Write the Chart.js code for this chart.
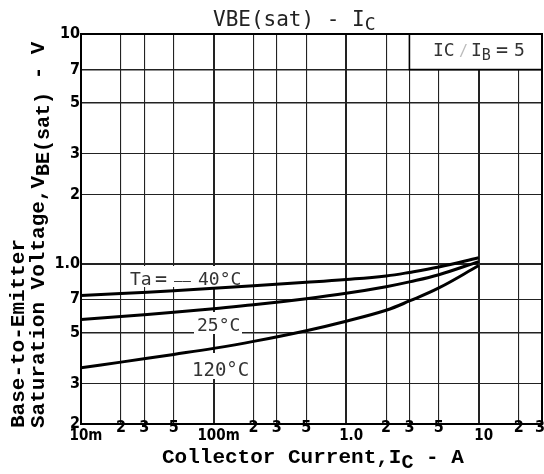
<!DOCTYPE html>
<html>
<head>
<meta charset="utf-8">
<script src="https://cdn.jsdelivr.net/npm/chart.js@4.4.1/dist/chart.umd.min.js"></script>
<style>
  html, body { margin: 0; padding: 0; background: #fff; }
  #wrap { width: 544px; height: 474px; }
</style>
</head>
<body>
<div id="wrap"><canvas id="myChart" width="544" height="474"></canvas></div>
<script>
// collector current (A) and VBE(sat) (V)
const currentA = [0.01, 0.02, 0.05, 0.1, 0.2, 0.5, 1, 2, 3, 5, 10];
const vbeM40 = [0.725, 0.740, 0.762, 0.781, 0.800, 0.828, 0.852, 0.883, 0.915, 0.966, 1.060];
const vbe25 = [0.570, 0.588, 0.613, 0.636, 0.661, 0.703, 0.742, 0.793, 0.832, 0.894, 1.020];
const vbe120 = [0.352, 0.372, 0.402, 0.427, 0.458, 0.510, 0.561, 0.626, 0.687, 0.783, 0.980];

const xTicks = [0.01, 0.02, 0.03, 0.05, 0.1, 0.2, 0.3, 0.5, 1, 2, 3, 5, 10, 20, 30];
const xTickLabels = ["10m", "2", "3", "5", "100m", "2", "3", "5", "1.0", "2", "3", "5", "10", "2", "3"];
const yTicks = [0.2, 0.3, 0.5, 0.7, 1, 2, 3, 5, 7, 10];
const yTickLabels = ["2", "3", "5", "7", "1.0", "2", "3", "5", "7", "10"];

const monoBold = "'Liberation Mono', 'DejaVu Sans Mono', monospace";
const monoThin = "'DejaVu Sans Mono', 'Liberation Mono', monospace";
const narrow = "'Liberation Sans Narrow', 'DejaVu Sans Condensed', 'Liberation Sans', sans-serif";

function toPoints(ys) {
  return currentA.map((x, i) => ({ x: x, y: ys[i] }));
}

function line(label, ys) {
  return {
    label: label,
    data: toPoints(ys),
    showLine: true,
    borderColor: "#000",
    borderWidth: 3,
    pointRadius: 0,
    tension: 0.4,
    fill: false
  };
}

// draws text pieces one after another, subscripts shifted down
function drawParts(c, parts, x, y) {
  parts.forEach(p => {
    c.font = p.font;
    c.fillStyle = p.color || "#000";
    let px = p.x !== undefined ? p.x : x;
    c.fillText(p.t, px, y + (p.dy || 0));
    x = px + c.measureText(p.t).width;
  });
}

const decorations = {
  id: "decorations",
  beforeDatasetsDraw(chart) {
    let c = chart.ctx;
    let xs = chart.scales.x;
    let ys = chart.scales.y;
    c.save();

    // IC/IB box in the top right cell
    let bx0 = xs.getPixelForValue(3), bx1 = xs.getPixelForValue(30);
    let by0 = ys.getPixelForValue(10), by1 = ys.getPixelForValue(7);
    c.fillStyle = "#fff";
    c.fillRect(bx0, by0, bx1 - bx0, by1 - by0);
    c.strokeStyle = "#000";
    c.lineWidth = 1.6;
    c.strokeRect(bx0, by0, bx1 - bx0, by1 - by0);
    c.textAlign = "left";
    c.textBaseline = "alphabetic";
    drawParts(c, [
      { t: "IC", font: "18px " + monoThin, x: 433, color: "#333" },
      { t: "/", font: "15px " + monoThin, x: 459, color: "#bbb" },
      { t: "I", font: "18px " + monoThin, x: 471, color: "#333" },
      { t: "B", font: "15px " + monoThin, dy: 4, color: "#333" },
      { t: "=", font: "20px " + monoThin, x: 496, color: "#333" },
      { t: "5", font: "18px " + monoThin, x: 514, color: "#333" }
    ], 433, 56);

    // curve labels on white patches
    c.fillStyle = "#fff";
    c.fillRect(127, 266, 118, 21);
    c.fillRect(194, 312, 48, 22);
    c.fillRect(190, 353, 57, 26);
    drawParts(c, [
      { t: "Ta", font: "18px " + monoThin, x: 130, color: "#333" },
      { t: "=", font: "20px " + monoThin, x: 155, color: "#333" },
      { t: "\u2014\u2014", font: "14px " + monoThin, x: 174, color: "#333" },
      { t: "40\u00b0C", font: "18px " + monoThin, x: 198, color: "#333" }
    ], 130, 285);
    drawParts(c, [{ t: "25\u00b0C", font: "18px " + monoThin, color: "#333" }], 197, 331);
    drawParts(c, [{ t: "120\u00b0C", font: "19px " + monoThin, color: "#333" }], 192, 376);
    c.restore();
  },
  afterDraw(chart) {
    let c = chart.ctx;
    let xs = chart.scales.x;
    let area = chart.chartArea;
    c.save();

    // plot frame
    c.strokeStyle = "#000";
    c.lineWidth = 2;
    c.strokeRect(area.left, area.top, area.right - area.left, area.bottom - area.top);

    // x tick labels, minor ones sit a bit higher
    c.textBaseline = "middle";
    c.fillStyle = "#000";
    xTicks.forEach((v, i) => {
      let px = xs.getPixelForValue(v);
      let major = xTickLabels[i].length > 1;
      c.font = (major ? "bold 15px " : "bold 16px ") + narrow;
      c.textAlign = "center";
      if (i === xTicks.length - 1) { c.textAlign = "right"; px += 3; }
      c.fillText(xTickLabels[i], major ? px + 5 : px, major ? area.bottom + 12 : area.bottom + 4);
    });

    // title
    c.textAlign = "left";
    c.textBaseline = "alphabetic";
    drawParts(c, [
      { t: "VBE(sat) - I", font: "21px " + monoThin, color: "#222" },
      { t: "C", font: "18px " + monoThin, dy: 4, color: "#222" }
    ], 213, 26);

    // x axis title
    drawParts(c, [
      { t: "Collector Current,I", font: "bold 21px " + monoBold },
      { t: "C", font: "bold 20px " + monoBold, dy: 5 },
      { t: " - A", font: "bold 21px " + monoBold }
    ], 162, 463);

    // y axis title, two rotated lines
    c.save();
    c.translate(24, 428);
    c.rotate(-Math.PI / 2);
    drawParts(c, [{ t: "Base-to-Emitter", font: "bold 21px " + monoBold }], 0, 0);
    c.restore();
    c.save();
    c.translate(44, 428);
    c.rotate(-Math.PI / 2);
    drawParts(c, [
      { t: "Saturation Voltage,V", font: "bold 21px " + monoBold },
      { t: "BE(sat)", font: "bold 20px " + monoBold, dy: 5 },
      { t: " - V", font: "bold 21px " + monoBold }
    ], 0, 0);
    c.restore();

    c.restore();
  }
};

let ctx = document.getElementById("myChart").getContext("2d");

let chart = new Chart(ctx, {
  type: "scatter",
  data: {
    datasets: [
      line("Ta=-40°C", vbeM40),
      line("25°C", vbe25),
      line("120°C", vbe120)
    ]
  },
  options: {
    responsive: false,
    animation: false,
    layout: { padding: { top: 34, right: 2, left: 0, bottom: 0 } },
    plugins: {
      legend: { display: false },
      tooltip: { enabled: false }
    },
    scales: {
      x: {
        type: "logarithmic",
        min: 0.01,
        max: 30,
        afterBuildTicks: s => { s.ticks = xTicks.map(v => ({ value: v })); },
        afterFit: s => { s.height = 50; },
        ticks: { display: false },
        border: { display: true, color: "#000", width: 2 },
        grid: {
          drawTicks: false,
          color: "#222",
          lineWidth: c => ([0.01, 0.1, 1, 10, 30].includes(c.tick && c.tick.value) ? 2 : 1.1)
        }
      },
      y: {
        type: "logarithmic",
        min: 0.2,
        max: 10,
        afterBuildTicks: s => { s.ticks = yTicks.map(v => ({ value: v })); },
        afterFit: s => { s.width = 81; },
        ticks: {
          autoSkip: false,
          padding: 1,
          color: "#000",
          font: { family: narrow, size: 16, weight: "bold" },
          callback: (v, i) => yTickLabels[i]
        },
        border: { display: true, color: "#000", width: 2 },
        grid: {
          drawTicks: false,
          color: "#222",
          lineWidth: c => {
            let v = c.tick && c.tick.value;
            if (v === 10 || v === 1) return 2;
            if (v === 5 || v === 0.5 || v === 7) return 1.6;
            return 1.1;
          }
        }
      }
    }
  },
  plugins: [decorations]
});
</script>
</body>
</html>
